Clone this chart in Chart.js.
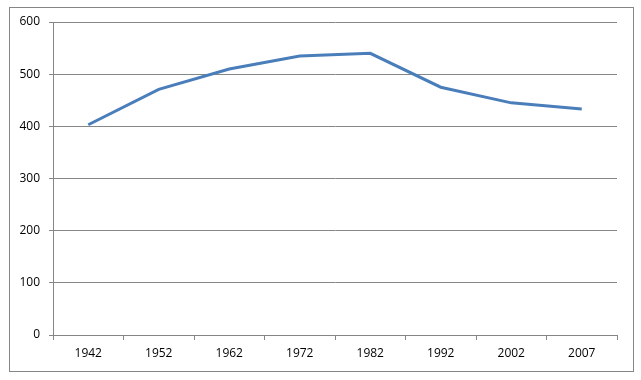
<!DOCTYPE html>
<html>
<head>
<meta charset="utf-8">
<script src="https://cdn.jsdelivr.net/npm/chart.js@4/dist/chart.umd.min.js"></script>
<style>
  html, body { margin: 0; padding: 0; background: #fff; }
  #wrap { position: relative; width: 641px; height: 380px; }
  #frame {
    position: absolute; left: 9px; top: 7px; width: 623px; height: 363px;
    border: 1px solid #868686; pointer-events: none;
  }
</style>
</head>
<body>
<div id="wrap">
  <canvas id="chart" width="641" height="380"></canvas>
  <div id="frame"></div>
</div>
<script>
  const YEARS = ["1942", "1952", "1962", "1972", "1982", "1992", "2002", "2007"];
  const VALUES = [403, 471, 510, 535, 540, 475, 445, 433];
  const Y_MIN = 0;
  const Y_MAX = 600;
  const Y_STEP = 100;

  const LINE_COLOR = "#4a7ebb";
  const GRID_COLOR = "#868686";
  const TEXT_COLOR = "#000000";

  Chart.defaults.font.family = "'Open Sans', 'Liberation Sans', sans-serif";
  Chart.defaults.font.size = 12;
  Chart.defaults.color = TEXT_COLOR;

  new Chart(document.getElementById("chart"), {
    type: "line",
    data: {
      labels: YEARS,
      datasets: [
        {
          data: VALUES,
          borderColor: LINE_COLOR,
          borderWidth: 3,
          pointRadius: 0,
          tension: 0,
          fill: false,
        },
      ],
    },
    options: {
      responsive: false,
      animation: false,
      plugins: { legend: { display: false }, tooltip: { enabled: false } },
      layout: { padding: { left: 9, right: 24, top: 22, bottom: 9 } },
      scales: {
        x: {
          offset: true,
          grid: {
            offset: true,
            drawOnChartArea: false,
            drawTicks: true,
            tickLength: 5,
            color: GRID_COLOR,
          },
          border: { display: true, color: GRID_COLOR },
          ticks: { padding: 6, maxRotation: 0 },
          afterFit: function (scale) { scale.height = 36; },
        },
        y: {
          min: Y_MIN,
          max: Y_MAX,
          grid: { color: GRID_COLOR, tickLength: 4 },
          border: { display: true, color: GRID_COLOR },
          ticks: { stepSize: Y_STEP, padding: 9 },
          afterFit: function (scale) { scale.width = 44; },
        },
      },
    },
  });
</script>
</body>
</html>
